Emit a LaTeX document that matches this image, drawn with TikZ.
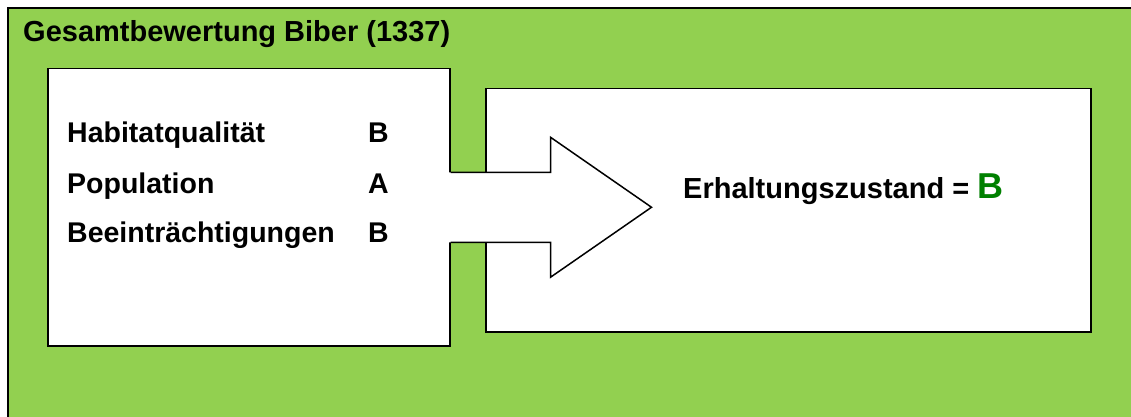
\documentclass[tikz,border=0pt]{standalone}
\usepackage{fontspec}
\setmainfont{Liberation Sans}
\usetikzlibrary{positioning}
\definecolor{framegreen}{RGB}{146,208,80}
\definecolor{gradegreen}{RGB}{0,128,0}

\begin{document}
\begin{tikzpicture}[x=1pt, y=-1pt,
        box/.style={draw=black, line width=1.5pt, fill=white, inner sep=0pt, anchor=north west},
        txt/.style={font=\fontsize{28.5}{34}\selectfont\bfseries, anchor=base west, inner sep=0pt},
    ]
        \useasboundingbox (0,0) rectangle (1131,417);
        \clip (0,0) rectangle (1131,417);

        % Green frame
        \draw[fill=framegreen, line width=2.5pt] (8,8) rectangle (1160,440);
        \node[txt, font=\fontsize{29}{34}\selectfont\bfseries] (title) at (23,42) {Gesamtbewertung Biber (1337)};

        % Boxes
        \node[box, minimum width=402pt, minimum height=277pt] (bewertung) at (47,68) {};
        \node[box, minimum width=605pt, minimum height=243pt] (zustand) at (485,88) {};

        % Arrow
        \fill[white] ([xshift=-3pt]bewertung.east) ++(0,-35) -- ++(103,0) -- ++(0,-35) -- ++(101,70)
            -- ++(-101,70) -- ++(0,-35) -- ++(-103,0) -- cycle;
        \draw[line width=1.5pt] (bewertung.east) ++(0,-35) -- ++(100,0) -- ++(0,-35) -- ++(101,70)
            -- ++(-101,70) -- ++(0,-35) -- ++(-100,0);

        % Criteria
        \foreach \y/\krit/\note [count=\i] in {
            142/Habitatqualität/B,
            193/Population/A,
            242/Beeinträchtigungen/B
        } {
            \node[txt] (krit\i) at (67,\y) {\krit};
            \node[txt] (note\i) at (368,\y) {\note};
        }

        % Result
        \node[txt, font=\fontsize{29}{34}\selectfont\bfseries] (ergebnis) at (683,198)
            {Erhaltungszustand = \textcolor{gradegreen}{\fontsize{36}{40}\selectfont B}};
    \end{tikzpicture}
\end{document}
